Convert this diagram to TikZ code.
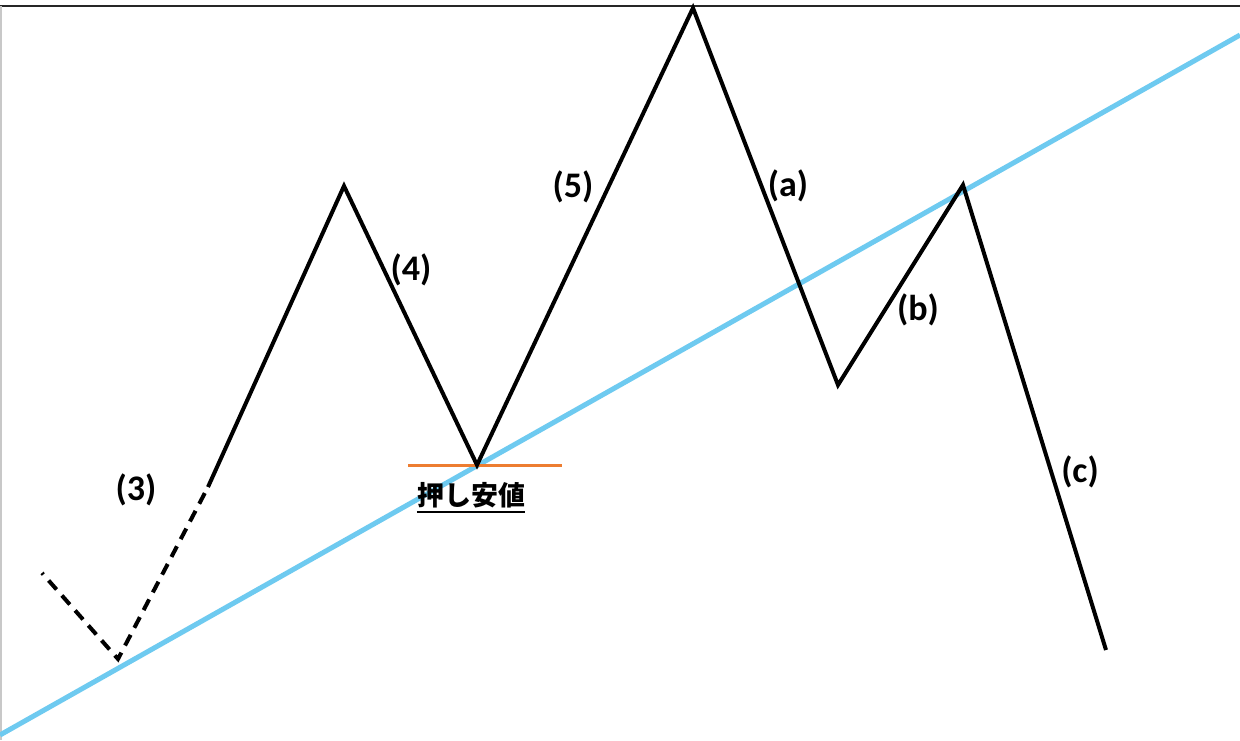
\documentclass[tikz,border=0pt]{standalone}
\usepackage{fontspec}
\setmainfont{Carlito}
\newfontfamily\jpfont{Noto Sans CJK JP}
\definecolor{trendblue}{RGB}{110,202,240}
\definecolor{supportorange}{RGB}{237,125,49}
\definecolor{framegray}{RGB}{200,200,200}
\begin{document}
\begin{tikzpicture}[x=1pt,y=-1pt,
  wave/.style={line width=4pt,black,line join=miter},
  dashwave/.style={line width=4pt,black,dash pattern=on 12pt off 8pt,dash phase=10pt},
  lbl/.style={font=\fontsize{36}{38}\selectfont\bfseries,inner sep=0pt},
  jp/.style={font=\jpfont\fontsize{27}{30}\selectfont\bfseries,inner sep=0pt}]
\useasboundingbox (0,0) rectangle (1240,740);
\fill[white] (0,0) rectangle (1240,740);
% frame
\coordinate (tl) at (0,6);
\coordinate (tr) at (1240,6);
\coordinate (bl) at (1,740);
\draw[line width=2pt,black!85] (tl) -- (tr);
\draw[line width=1.5pt,framegray] (1,6) -- (bl);
% wave vertices
\coordinate (p0) at (42,573);
\coordinate (p1) at (118,659);
\coordinate (p2) at (208,487);
\coordinate (p3) at (344,186);
\coordinate (p4) at (477,465);
\coordinate (p5) at (693,8);
\coordinate (p6) at (838,385);
\coordinate (p7) at (963,185);
\coordinate (p8) at (1106,650);
% trend line
\coordinate (t0) at (0,735);
\coordinate (t1) at (1240,35);
\draw[line width=5pt,trendblue] (t0) -- (t1);
% support line
\coordinate (o0) at (408,465);
\coordinate (o1) at (562,465);
\draw[line width=3pt,supportorange] (o0) -- (o1);
% waves
\draw[dashwave] (p0) -- (p1) -- (p2);
\draw[wave] (p2) -- (p3) -- (p4) -- (p5) -- (p6) -- (p7) -- (p8);
% labels
\node[lbl] (l3) at (136,490) {(3)};
\node[lbl] (l4) at (411,270) {(4)};
\node[lbl] (l5) at (573,187) {(5)};
\node[lbl] (la) at (788,186) {(a)};
\node[lbl] (lb) at (918,310) {(b)};
\node[lbl] (lc) at (1080,472) {(c)};
\node[jp] (js) at (471,495) {押し安値};
\draw[line width=2pt] ([yshift=-4pt]js.south west) -- ([yshift=-4pt]js.south east);
\end{tikzpicture}
\end{document}
